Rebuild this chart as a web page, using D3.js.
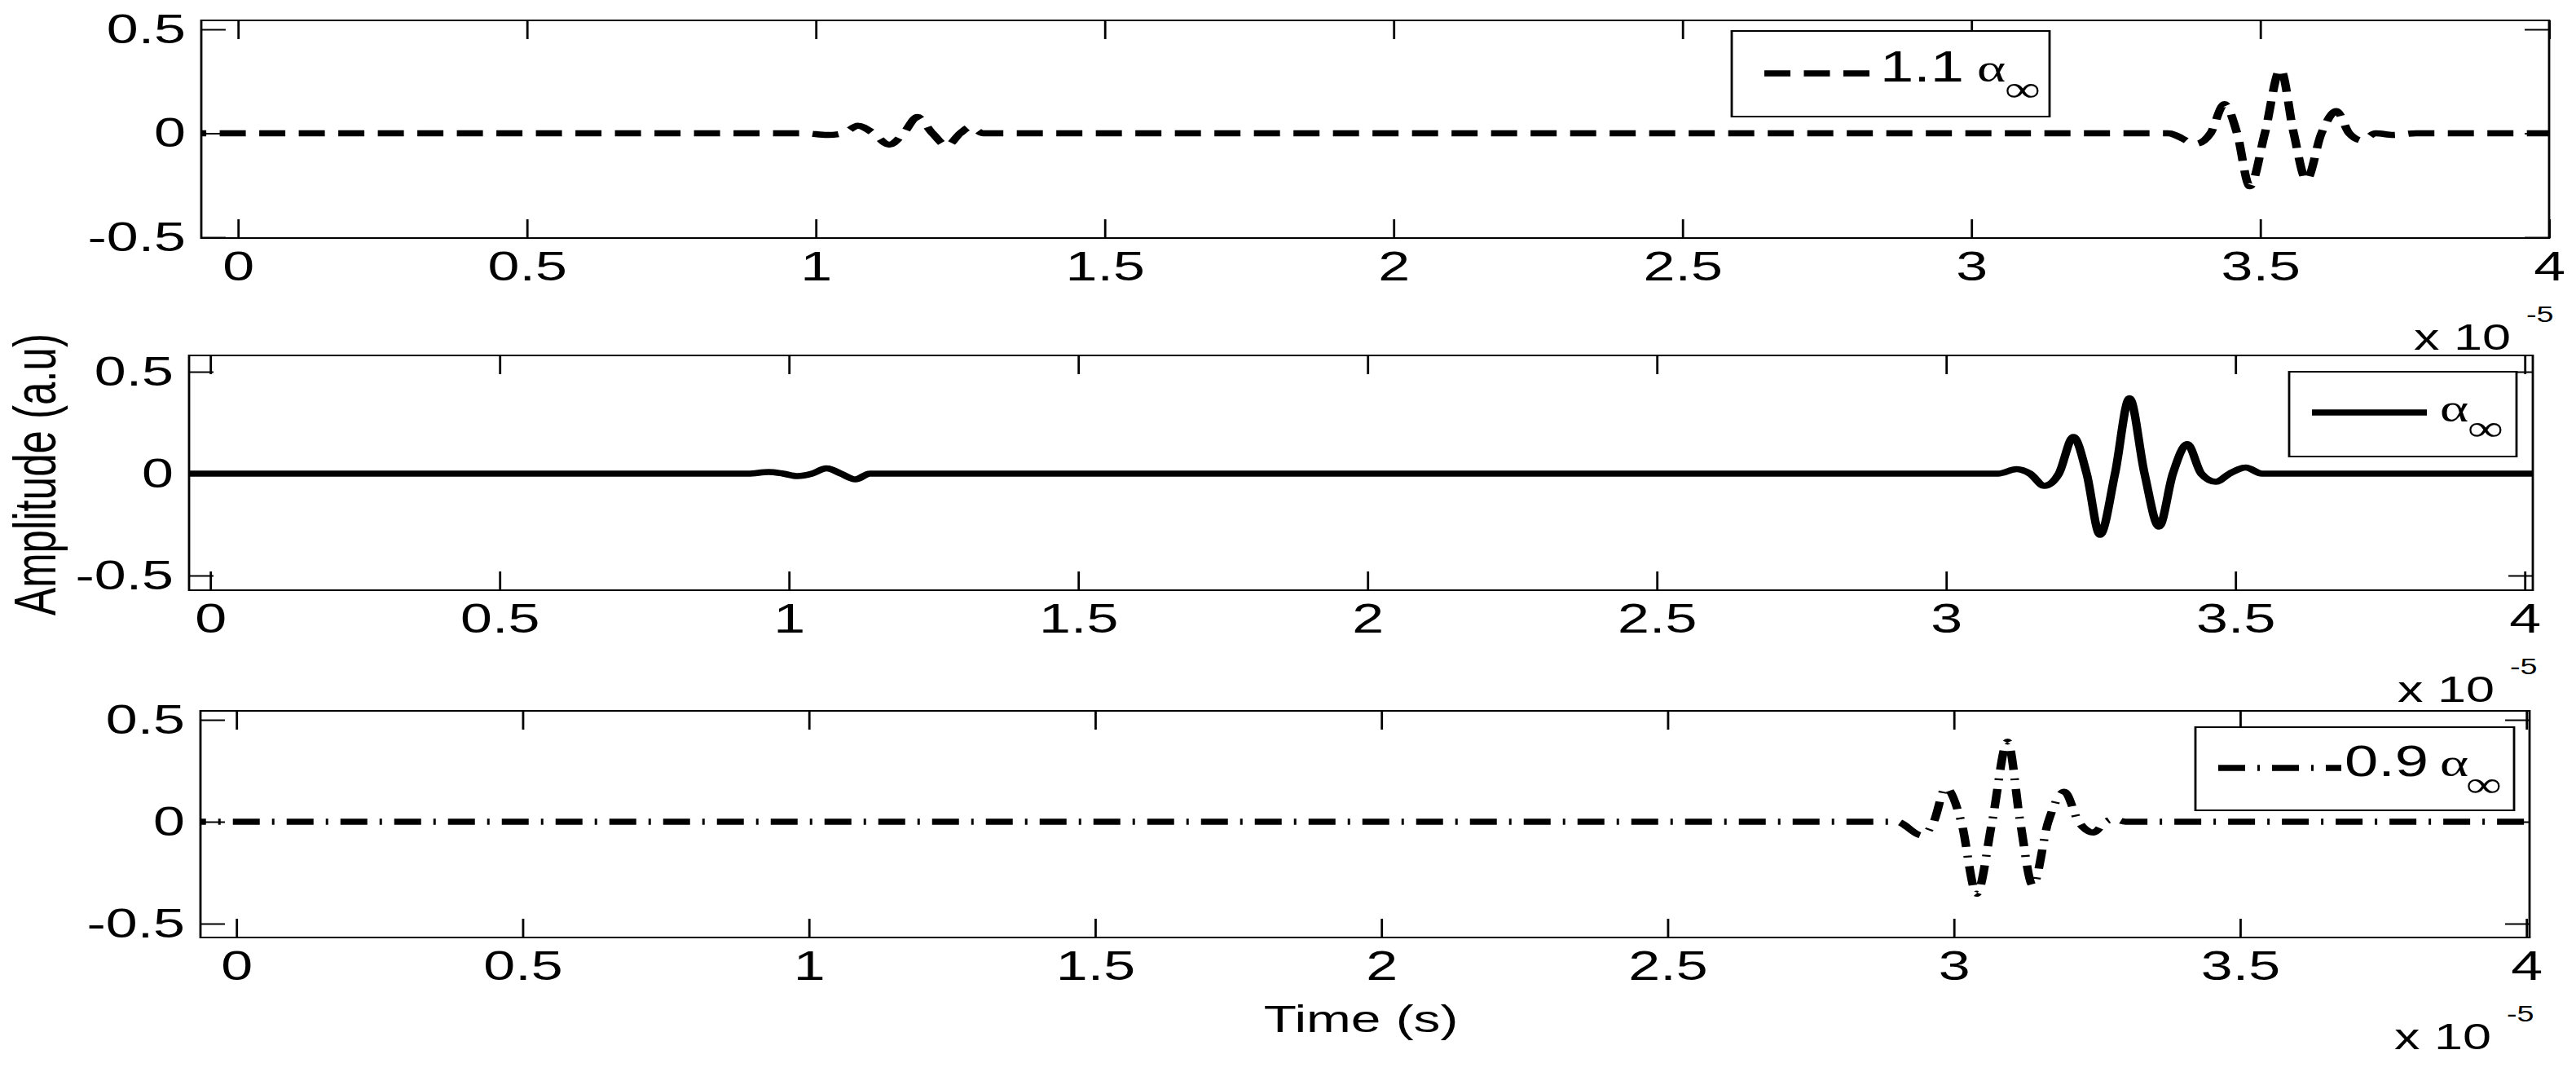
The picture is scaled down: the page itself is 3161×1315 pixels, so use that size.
<!DOCTYPE html>
<html><head><meta charset="utf-8">
<script src="https://cdn.jsdelivr.net/npm/d3@7"></script>
<style>
html,body{margin:0;padding:0;background:#fff;overflow:hidden;}
svg{display:block;}
text{font-family:"Liberation Sans",Arial,Helvetica,sans-serif;fill:#000;}
</style></head><body>
<script>
// ---------------- data ----------------
const timeTicks = [0, 0.5, 1, 1.5, 2, 2.5, 3, 3.5, 4];           // x 10^-5 s
const timeTickLabels = ["0", "0.5", "1", "1.5", "2", "2.5", "3", "3.5", "4"];
const ampTicks = [-0.5, 0, 0.5];
const ampTickLabels = ["-0.5", "0", "0.5"];
const legendFactors = ["1.1", "", "0.9"];   // times alpha_infinity
const xLabel = "Time (s)";
const yLabel = "Amplitude (a.u)";

// 1.1 alpha_inf (dashed)
const t11 = [-0.1, 0.98, 1.02, 1.048, 1.073, 1.10, 1.127, 1.152, 1.176, 1.202, 1.227, 1.25, 1.268, 1.29,
             3.34, 3.39, 3.414, 3.438, 3.46, 3.482, 3.508, 3.535, 3.558, 3.58, 3.606, 3.632, 3.654, 3.676, 3.70, 3.73, 3.77, 4.05];
const a11 = [0, 0, -0.008, 0, 0.036, 0, -0.055, 0, 0.078, 0, -0.06, 0, 0.03, 0,
             0, -0.05, 0, 0.14, 0, -0.255, 0, 0.308, 0, -0.225, 0, 0.107, 0, -0.034, 0, -0.008, 0, 0];
// alpha_inf (solid)
const t10 = [-0.1, 0.93, 0.965, 0.99, 1.015, 1.04, 1.065, 1.09, 1.115, 1.14, 1.17,
             3.09, 3.122, 3.145, 3.17, 3.195, 3.22, 3.243, 3.266, 3.292, 3.317, 3.343, 3.368, 3.392, 3.417, 3.441, 3.466, 3.49, 3.518, 3.546, 4.05];
const a10 = [0, 0, 0.008, 0, -0.012, 0, 0.026, 0, -0.028, 0, 0,
             0, 0.022, 0, -0.06, 0, 0.18, 0, -0.30, 0, 0.37, 0, -0.26, 0, 0.145, 0, -0.04, 0, 0.03, 0, 0];
// 0.9 alpha_inf (dash-dot)
const t09 = [-0.1, 2.9, 2.944, 2.965, 2.986, 3.013, 3.04, 3.067, 3.094, 3.116, 3.138, 3.165, 3.193, 3.218, 3.244, 3.265, 3.28, 3.30, 4.05];
const a09 = [0, 0, -0.067, 0, 0.167, 0, -0.353, 0, 0.393, 0, -0.313, 0, 0.147, 0, -0.053, 0, 0.012, 0, 0];

// ---------------- layout ----------------
const W = 3161, H = 1315, SX = 1.4;   // picture is stretched horizontally
const X = px => px / SX;

const panels = [
  {left:247, right:3128, top:25,  bottom:292,  x0:292, x4:3128, yHi:36,  yLo:291,  t:t11, a:a11, dash:[32,16.5],
   leg:{box:[2125,2515,38,143], line:[2165,2295], lineY:90,  numX:2307, base:100, alphaX:2426, infX:2460, infY:124}},
  {left:232, right:3108, top:436, bottom:724,  x0:258, x4:3098, yHi:456, yLo:706,  t:t10, a:a10, dash:null,
   leg:{box:[2809,3088,456,560], line:[2837,2978], lineY:506, numX:null, base:517, alphaX:2994, infX:3028, infY:540}},
  {left:246, right:3104, top:872, bottom:1150, x0:290, x4:3100, yHi:883, yLo:1133, t:t09, a:a09, dash:[33,15,3,15],
   leg:{box:[2694,3085,892,994], line:[2722,2873], lineY:942, numX:2877, base:952, alphaX:2994, infX:3026, infY:977}}
];

const svg = d3.select("body").append("svg")
  .attr("width", W).attr("height", H)
  .attr("viewBox", `0 0 ${W / SX} ${H}`)
  .attr("preserveAspectRatio", "none");
svg.append("rect").attr("width", W / SX).attr("height", H).attr("fill", "#fff");
const defs = svg.append("defs");

const LW = 7.5;
const SERIF = "'Liberation Serif','DejaVu Serif',serif";

panels.forEach((p, i) => {
  const x = d3.scaleLinear().domain([0, 4]).range([X(p.x0), X(p.x4)]);
  const y = d3.scaleLinear().domain([-0.5, 0.5]).range([p.yLo, p.yHi]);
  const g = svg.append("g");

  defs.append("clipPath").attr("id", "clip" + i).append("rect")
    .attr("x", X(p.left)).attr("y", p.top)
    .attr("width", X(p.right) - X(p.left)).attr("height", p.bottom - p.top);

  const styleAxis = sel => {
    sel.select(".domain").remove();
    sel.attr("font-size", null).attr("font-family", null);
    sel.selectAll(".tick line").attr("stroke", "#000").attr("stroke-width", 2);
    sel.selectAll(".tick text").style("font-size", "50px").attr("fill", "#000");
  };
  g.append("g").attr("transform", `translate(0,${p.bottom})`)
    .call(d3.axisBottom(x).tickValues(timeTicks).tickFormat((d, k) => timeTickLabels[k])
      .tickSizeInner(-23).tickSizeOuter(0).tickPadding(17))
    .call(styleAxis);
  g.append("g").attr("transform", `translate(0,${p.top})`)
    .call(d3.axisTop(x).tickValues(timeTicks).tickFormat("").tickSizeInner(-23).tickSizeOuter(0))
    .call(styleAxis);
  g.append("g").attr("transform", `translate(${X(p.left)},0)`)
    .call(d3.axisLeft(y).tickValues(ampTicks).tickFormat((d, k) => ampTickLabels[k])
      .tickSizeInner(-21.4).tickSizeOuter(0).tickPadding(X(19)))
    .call(styleAxis);
  g.append("g").attr("transform", `translate(${X(p.right)},0)`)
    .call(d3.axisRight(y).tickValues(ampTicks).tickFormat("").tickSizeInner(-21.4).tickSizeOuter(0))
    .call(styleAxis);

  g.append("rect").attr("x", X(p.left)).attr("y", p.top)
    .attr("width", X(p.right) - X(p.left)).attr("height", p.bottom - p.top)
    .attr("fill", "none").attr("stroke", "#000").attr("stroke-width", 2);

  const line = d3.line().x(d => x(d[0])).y(d => y(d[1])).curve(d3.curveMonotoneX);
  const path = g.append("path").datum(d3.zip(p.t, p.a))
    .attr("clip-path", `url(#clip${i})`)
    .attr("d", line).attr("fill", "none").attr("stroke", "#000")
    .attr("stroke-width", LW).attr("stroke-linejoin", "round");
  if (p.dash) path.attr("stroke-dasharray", p.dash.map(v => v / SX).join(" "));

  // exponent label
  g.append("text").attr("x", X(p.right - 166)).attr("y", p.bottom + 137)
    .style("font-size", "45px").text("x 10");
  g.append("text").attr("x", X(p.right - 28)).attr("y", p.bottom + 103)
    .style("font-size", "27px").text("-5");

  // legend
  const L = p.leg;
  g.append("rect").attr("x", X(L.box[0])).attr("y", L.box[2])
    .attr("width", X(L.box[1]) - X(L.box[0])).attr("height", L.box[3] - L.box[2])
    .attr("fill", "#fff").attr("stroke", "#000").attr("stroke-width", 2);
  const ls = g.append("line").attr("x1", X(L.line[0])).attr("x2", X(L.line[1]))
    .attr("y1", L.lineY).attr("y2", L.lineY)
    .attr("stroke", "#000").attr("stroke-width", LW);
  if (p.dash) ls.attr("stroke-dasharray", p.dash.map(v => v / SX).join(" "));
  if (legendFactors[i]) {
    g.append("text").attr("x", X(L.numX)).attr("y", L.base)
      .style("font-size", "53px").text(legendFactors[i]);
  }
  g.append("text").attr("x", X(L.alphaX)).attr("y", L.base)
    .style("font-family", SERIF).style("font-size", "48px").text("α");
  g.append("text").attr("x", X(L.infX)).attr("y", L.infY)
    .style("font-family", SERIF).style("font-size", "44px").text("∞");
});

// axis titles
svg.append("text").attr("x", X(1670)).attr("y", 1266).attr("text-anchor", "middle")
  .style("font-size", "47px").text(xLabel);
svg.append("text").attr("transform", `translate(${X(68)},582) rotate(-90)`).attr("text-anchor", "middle")
  .style("font-size", "51px").text(yLabel);
</script>
</body></html>
